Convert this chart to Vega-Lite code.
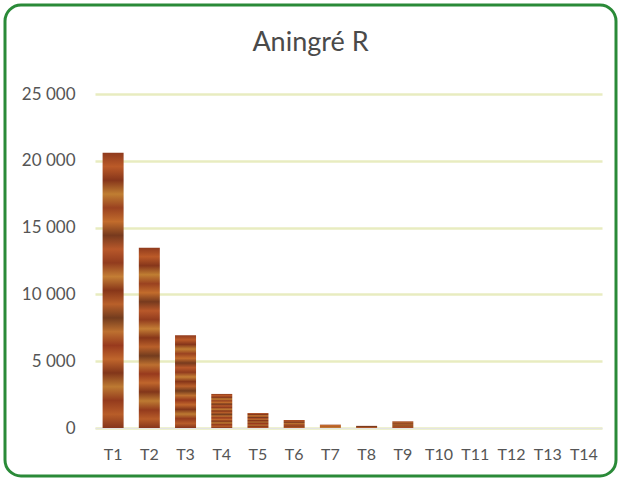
{
  "$schema": "https://vega.github.io/schema/vega-lite/v6.json",
  "width": 611,
  "height": 471,
  "padding": 5,
  "autosize": "none",
  "background": "white",
  "config": {
    "view": {"stroke": "#2a8a38", "strokeWidth": 3, "cornerRadius": 16, "fill": "white"},
    "font": "Lato"
  },
  "title": {
    "text": "Aningré R",
    "fontSize": 27,
    "fontWeight": "normal",
    "color": "#4a4a4a",
    "font": "Lato",
    "offset": -52,
    "anchor": "middle"
  },
  "data": {
    "values": [
      {"t": "T1", "v": 20600},
      {"t": "T2", "v": 13500},
      {"t": "T3", "v": 6950},
      {"t": "T4", "v": 2550},
      {"t": "T5", "v": 1120},
      {"t": "T6", "v": 600},
      {"t": "T7", "v": 250},
      {"t": "T8", "v": 160},
      {"t": "T9", "v": 500},
      {"t": "T10", "v": 0},
      {"t": "T11", "v": 0},
      {"t": "T12", "v": 0},
      {"t": "T13", "v": 0},
      {"t": "T14", "v": 0}
    ]
  },
  "mark": {
    "type": "bar",
    "color": {
      "gradient": "linear",
      "x1": 0, "y1": 0, "x2": 0, "y2": 1,
      "stops": [
        {"offset": 0, "color": "#8f3a1d"},
        {"offset": 0.05, "color": "#bb5a28"},
        {"offset": 0.1, "color": "#86361b"},
        {"offset": 0.15, "color": "#c07e32"},
        {"offset": 0.2, "color": "#9a4220"},
        {"offset": 0.25, "color": "#c26c2c"},
        {"offset": 0.3, "color": "#773a1e"},
        {"offset": 0.35, "color": "#b8582a"},
        {"offset": 0.4, "color": "#923c1e"},
        {"offset": 0.45, "color": "#c47e35"},
        {"offset": 0.5, "color": "#873619"},
        {"offset": 0.55, "color": "#b9602a"},
        {"offset": 0.6, "color": "#733c1e"},
        {"offset": 0.65, "color": "#bd7030"},
        {"offset": 0.7, "color": "#983a1d"},
        {"offset": 0.75, "color": "#c0662c"},
        {"offset": 0.8, "color": "#82361a"},
        {"offset": 0.85, "color": "#bd7a32"},
        {"offset": 0.9, "color": "#943b1d"},
        {"offset": 0.95, "color": "#b85d29"},
        {"offset": 1, "color": "#86361b"}
      ]
    }
  },
  "encoding": {
    "x": {
      "field": "t",
      "type": "nominal",
      "sort": null,
      "scale": {"range": [90, 597], "paddingInner": 0.42, "paddingOuter": 0.21},
      "axis": {
        "title": null,
        "orient": "bottom",
        "offset": -48,
        "labelAngle": 0,
        "labelFontSize": 16,
        "labelColor": "#555555",
        "labelFont": "Lato",
        "labelPadding": 18,
        "ticks": false,
        "tickSize": 0,
        "domain": true,
        "domainColor": "#e4e4e4",
        "domainWidth": 1,
        "grid": false
      }
    },
    "y": {
      "field": "v",
      "type": "quantitative",
      "scale": {"domain": [0, 25000], "range": [423, 89], "nice": false},
      "axis": {
        "title": null,
        "orient": "left",
        "offset": -89,
        "values": [0, 5000, 10000, 15000, 20000, 25000],
        "labelExpr": "replace(format(datum.value, ','), ',', ' ')",
        "labelFontSize": 17,
        "labelColor": "#555555",
        "labelFont": "Lato",
        "labelPadding": 19,
        "ticks": false,
        "tickSize": 0,
        "domain": false,
        "grid": true,
        "gridColor": "#e8ecc0",
        "gridWidth": 2.5
      }
    }
  }
}
